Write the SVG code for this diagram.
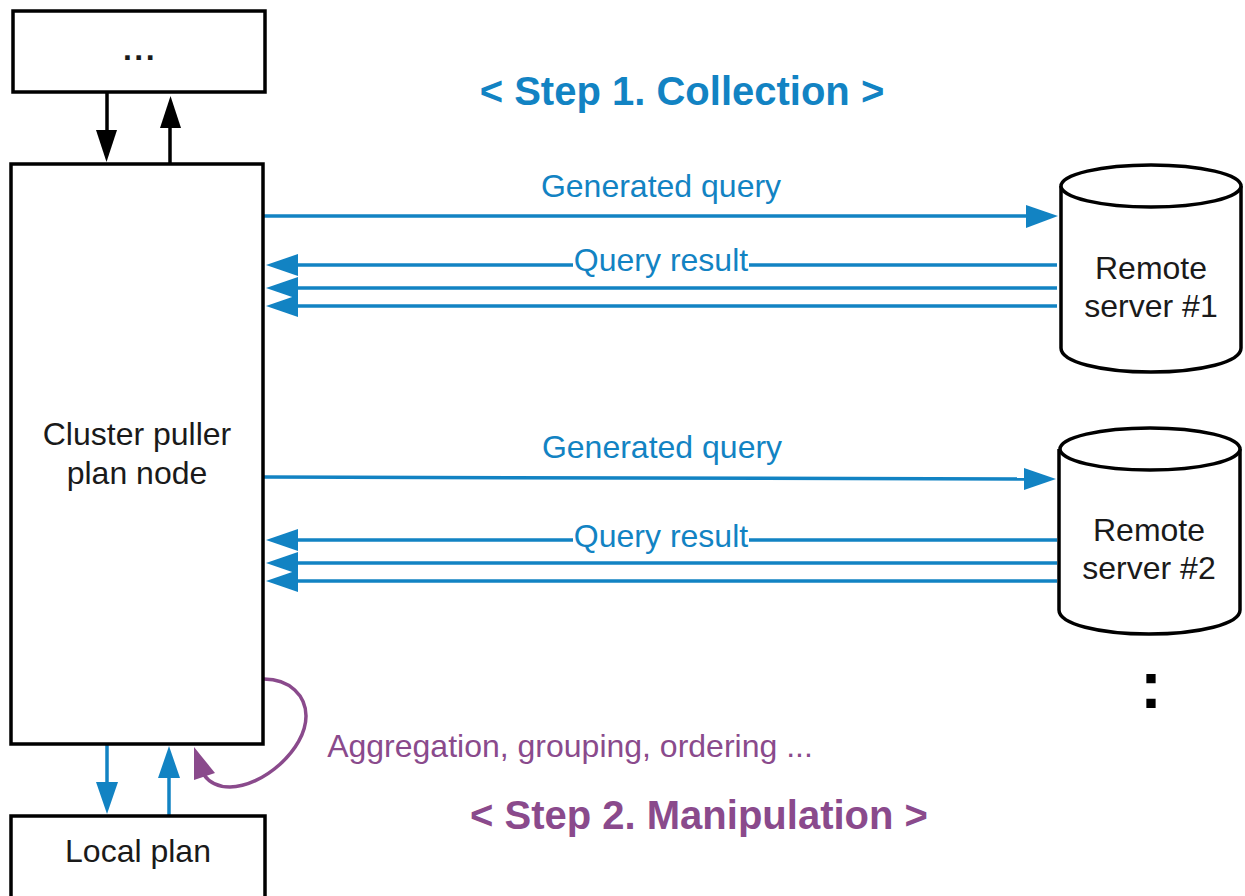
<svg xmlns="http://www.w3.org/2000/svg" width="1245" height="896" viewBox="0 0 1245 896">
<style>
text{font-family:"Liberation Sans",Arial,sans-serif;text-anchor:middle}
.n{font-size:32px;fill:#1a1a1a}
.b{font-size:32px;fill:#1283c3}
.p{font-size:32px;fill:#8a4a8c}
.h{font-size:40px;font-weight:bold}
.box{fill:#fff;stroke:#000;stroke-width:3.500}
.db{fill:#fff;stroke:#000;stroke-width:3.500}
.bl{stroke:#1283c3;stroke-width:3.500;fill:none}
.k{stroke:#000;stroke-width:3.500;fill:none}
.pu{stroke:#8a4a8c;stroke-width:3.500;fill:none}
.hb{fill:#1283c3}.hk{fill:#000}.hp{fill:#8a4a8c}
</style>
<rect width="1245" height="896" fill="#fff"/>
<g id="connectors">
<path class="k" d="M107 93V130"/><polygon class="hk" points="96,130 117,130 106.500,162"/>
<path class="k" d="M170 163V128"/><polygon class="hk" points="160,128 181,128 170.500,96"/>
<path class="bl" d="M264 216H1026"/><polygon class="hb" points="1026,205 1026,228 1058,216"/>
<path class="bl" d="M298 265H1057"/><polygon class="hb" points="298,254 298,276 266,265"/>
<path class="bl" d="M298 288H1057"/><polygon class="hb" points="298,277 298,299 266,288"/>
<path class="bl" d="M298 306H1057"/><polygon class="hb" points="298,295 298,317 266,306"/>
<path class="bl" d="M264 477L1024 479"/><polygon class="hb" points="1024,468 1024,490 1056,479"/>
<path class="bl" d="M298 540H1057"/><polygon class="hb" points="298,529 298,551 266,540"/>
<path class="bl" d="M298 563H1057"/><polygon class="hb" points="298,552 298,574 266,563"/>
<path class="bl" d="M298 581H1057"/><polygon class="hb" points="298,570 298,592 266,581"/>
<path class="bl" d="M107 745V782"/><polygon class="hb" points="96,782 118,782 107,814"/>
<path class="bl" d="M169 815V778"/><polygon class="hb" points="158,778 180,778 169,746"/>
<path class="pu" d="M264 679C290 679 306 696 306 716C306 750 262 787 230 787C218 787 209 782 204 775"/><polygon class="hp" points="194,747 194,780 215,773"/>
</g>
<g id="top-box"><rect class="box" x="13" y="11" width="252" height="81"/><text class="n" x="140" y="60" letter-spacing="2.500" font-weight="bold">...</text></g>
<g id="cluster-puller"><rect class="box" x="11" y="164" width="252" height="580"/><text class="n" x="137" y="445">Cluster puller</text><text class="n" x="137" y="484">plan node</text></g>
<g id="local-plan"><rect class="box" x="11" y="816" width="254" height="82"/><text class="n" x="138" y="862">Local plan</text></g>
<g id="server-1"><path class="db" d="M1061 186V348C1061 362 1101 372 1151 372C1201 372 1241 362 1241 348V186"/><ellipse class="db" cx="1151" cy="186" rx="90" ry="21"/><text class="n" x="1151" y="279">Remote</text><text class="n" x="1151" y="317">server #1</text></g>
<g id="server-2"><path class="db" d="M1059 449V610C1059 624 1099 634 1149 634C1199 634 1240 624 1240 610V449"/><ellipse class="db" cx="1150" cy="449" rx="90" ry="21"/><text class="n" x="1149" y="541">Remote</text><text class="n" x="1149" y="579">server #2</text></g>
<g id="labels">
<text class="h" x="682" y="105" fill="#1283c3">&lt; Step 1. Collection &gt;</text>
<text class="b" x="661" y="197">Generated query</text>
<rect x="573" y="250" width="176" height="30" fill="#fff"/>
<text class="b" x="661" y="271">Query result</text>
<text class="b" x="662" y="458">Generated query</text>
<rect x="573" y="525" width="176" height="30" fill="#fff"/>
<text class="b" x="661" y="547">Query result</text>
<text class="p" x="570" y="757">Aggregation, grouping, ordering ...</text>
<text class="h" x="699" y="829" fill="#8a4a8c">&lt; Step 2. Manipulation &gt;</text>
<text x="1151" y="708" font-size="66" font-weight="bold" fill="#000">:</text>
</g>
</svg>
